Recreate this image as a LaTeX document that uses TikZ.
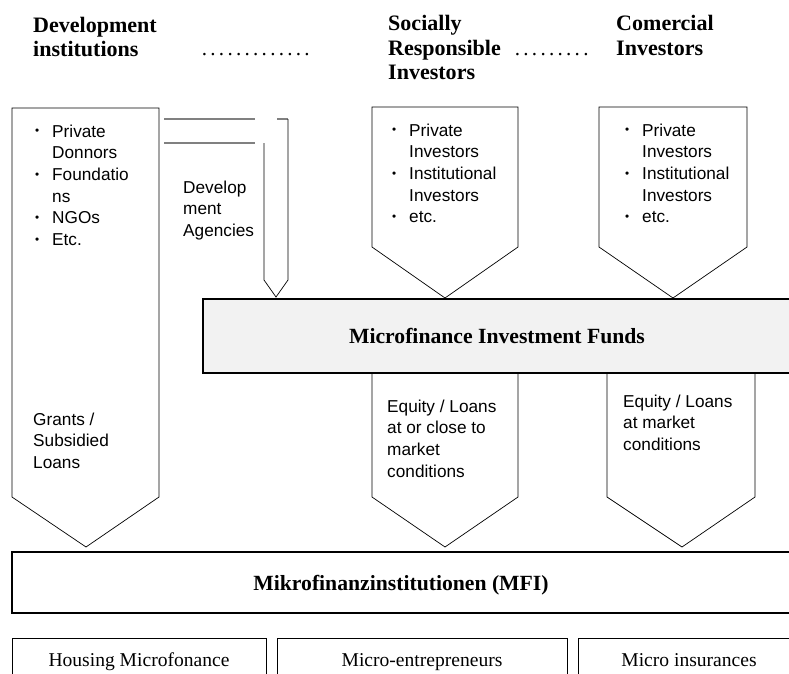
\documentclass[tikz,border=0pt]{standalone}
\usepackage{fontspec}
\setmainfont{Liberation Serif}
\setsansfont{Liberation Sans}

\definecolor{fondo}{HTML}{F2F2F2}

\newcommand{\vineta}{\makebox[14.5pt][l]{\raisebox{0.25ex}{\fontsize{10}{10}\selectfont\textbullet}}}
\newcommand{\sangria}{\hspace*{14.5pt}}

\tikzset{
	flecha/.style={draw, line width=0.6pt},
	caja/.style={draw, line width=1.6pt},
	titulo/.style={anchor=base west, inner sep=0pt, font=\bfseries\fontsize{18.8}{20.5}\selectfont},
	puntos/.style={anchor=base west, inner sep=0pt, font=\fontsize{18}{20}\selectfont},
	lista/.style={anchor=base west, inner sep=0pt, font=\sffamily\fontsize{14.7}{18.5}\selectfont},
	rotulo/.style={anchor=base, inner sep=0pt, font=\bfseries\fontsize{18.5}{20}\selectfont},
	sector/.style={anchor=base, inner sep=0pt, font=\fontsize{16.7}{18}\selectfont}
}

\begin{document}
\begin{tikzpicture}[x=0.03cm, y=-0.03cm]
	\useasboundingbox (0,0) rectangle (789,673);
	% Encabezados
		\node[titulo] (desarrollo) at (33,32) {\begin{tabular}[t]{@{}l@{}}Development\\institutions\end{tabular}};
		\node[titulo] (responsables) at (388,31) {\begin{tabular}[t]{@{}l@{}}Socially\\Responsible\\Investors\end{tabular}};
		\node[titulo] (comerciales) at (616,31) {\begin{tabular}[t]{@{}l@{}}Comercial\\Investors\end{tabular}};
		\node[puntos] (puntosA) at (200,55) {\hbox to 100pt{\leaders\hbox to 7.3pt{\hss.\hss}\hfill}};
		\node[puntos] (puntosB) at (513,55) {\hbox to 66pt{\leaders\hbox to 7.3pt{\hss.\hss}\hfill}};

	% Instituciones de desarrollo
		% Flecha grande
			\draw[flecha] (12,108) -- (159,108) -- (159,497) -- (86,547) -- (12,497) -- cycle;
		% Agencias
			\draw[line width=1pt, gray] (164,119) -- (255,119);
			\draw[line width=1pt, gray] (164,143) -- (255,143);
			\draw[line width=1pt, gray] (277,119) -- (288,119);
			\draw[flecha] (288,119) -- (288,280) -- (276,297) -- (264,280) -- (264,143);
		% Textos
			\node[lista] (donantes) at (35,137) {\begin{tabular}[t]{@{}l@{}}\vineta Private\\\sangria Donnors\\\vineta Foundatio\\\sangria ns\\\vineta NGOs\\\vineta Etc.\end{tabular}};
			\node[lista] (agencias) at (183,193) {\begin{tabular}[t]{@{}l@{}}Develop\\ment\\Agencies\end{tabular}};
			\node[lista] (subsidios) at (33,425) {\begin{tabular}[t]{@{}l@{}}Grants /\\Subsidied\\Loans\end{tabular}};

	% Inversores
		\draw[flecha] (372,107) -- (518,107) -- (518,247) -- (445,298) -- (372,247) -- cycle;
		\draw[flecha] (599,107) -- (747,107) -- (747,247) -- (673,298) -- (599,247) -- cycle;
		\node[lista] (privadosA) at (392,136) {\begin{tabular}[t]{@{}l@{}}\vineta Private\\\sangria Investors\\\vineta Institutional\\\sangria Investors\\\vineta etc.\end{tabular}};
		\node[lista] (privadosB) at (625,136) {\begin{tabular}[t]{@{}l@{}}\vineta Private\\\sangria Investors\\\vineta Institutional\\\sangria Investors\\\vineta etc.\end{tabular}};

	% Fondos
		\draw[caja, fill=fondo] (203,299) rectangle (800,373);
		\node[rotulo] (fondos) at (497,343) {Microfinance Investment Funds};
		\draw[flecha] (372,373) -- (372,497) -- (445,547) -- (518,497) -- (518,373);
		\draw[flecha] (607,373) -- (607,497) -- (682,547) -- (755,497) -- (755,373);
		\node[lista] (cercano) at (387,412) {\begin{tabular}[t]{@{}l@{}}Equity / Loans\\at or close to\\market\\conditions\end{tabular}};
		\node[lista] (mercado) at (623,407) {\begin{tabular}[t]{@{}l@{}}Equity / Loans\\at market\\conditions\end{tabular}};

	% MFI
		\draw[caja] (12,552) rectangle (800,613);
		\node[rotulo] (mfi) at (401,590) {Mikrofinanzinstitutionen (MFI)};

	% Sectores
		\draw[line width=0.8pt] (12,680) -- (12,638) -- (266,638) -- (266,680);
		\draw[line width=0.8pt] (277,680) -- (277,638) -- (567,638) -- (567,680);
		\draw[line width=0.8pt] (578,680) -- (578,638) -- (800,638);
		\node[sector] (vivienda) at (139,666) {Housing Microfonance};
		\node[sector] (empresarios) at (422,666) {Micro-entrepreneurs};
		\node[sector] (seguros) at (689,666) {Micro insurances};
\end{tikzpicture}
\end{document}
